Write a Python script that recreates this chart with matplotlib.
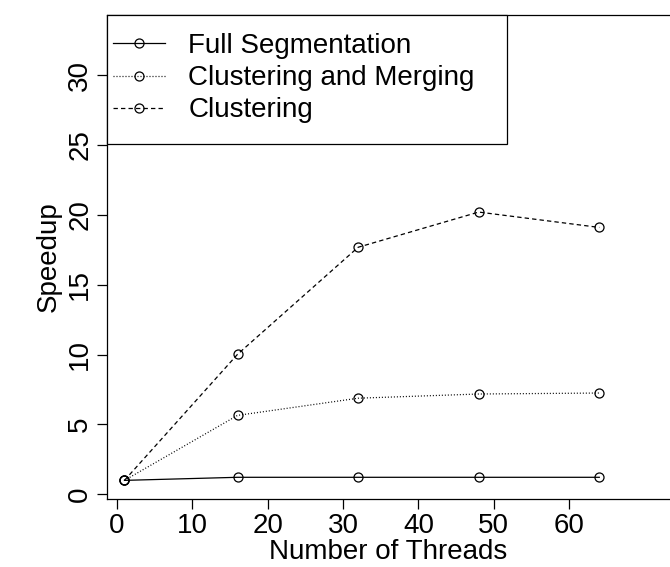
import matplotlib
matplotlib.use("Agg")
import matplotlib.pyplot as plt
from matplotlib.patches import Rectangle

threads = [1, 16, 32, 48, 64]
full_seg = [1.0, 1.22, 1.22, 1.22, 1.22]
clust_merge = [1.0, 5.65, 6.88, 7.18, 7.25]
clustering = [1.0, 10.02, 17.68, 20.2, 19.1]

xticks = [0, 10, 20, 30, 40, 50, 60]
yticks = [0, 5, 10, 15, 20, 25, 30]

plt.rcParams['font.family'] = ['Liberation Sans', 'DejaVu Sans']

fig = plt.figure(figsize=(6.7, 5.67), dpi=100)
ax = fig.add_axes([0.16, 0.1205, 0.84, 0.853])

mk = dict(marker='o', markersize=6.5, markerfacecolor='none',
          markeredgecolor='black', markeredgewidth=0.9, color='black', lw=0.9)
ax.plot(threads, full_seg, linestyle='-', label='Full Segmentation', **mk)
ax.plot(threads, clust_merge, linestyle=(0, (0.8, 1.6)), label='Clustering and Merging', **mk)
ax.plot(threads, clustering, linestyle=(0, (3.5, 2.5)), label='Clustering', **mk)

ax.set_xlim(-1.29, 73.38)
ax.set_ylim(-0.31, 34.3)
ax.set_xticks(xticks)
ax.set_yticks(yticks)
ax.set_yticklabels([str(v) for v in yticks], rotation=90, va='center')
ax.tick_params(labelsize=20, length=7, width=0.9)
ax.tick_params(axis='y', pad=3)
ax.tick_params(axis='x', pad=3)

for s in ['left', 'top', 'bottom']:
    ax.spines[s].set_linewidth(0.9)
ax.spines['right'].set_visible(False)

ax.set_xlabel('Number of Threads', fontsize=20, labelpad=0)
ax.set_ylabel('Speedup', fontsize=20, labelpad=4)

# legend box like R's
ax.add_patch(Rectangle((0, 0.7333), 0.7105, 0.2667, transform=ax.transAxes,
                       fill=True, facecolor='white', edgecolor='black',
                       lw=0.9, zorder=4, clip_on=False))
leg = ax.legend(loc='upper left', bbox_to_anchor=(0.0107, 0.9626), borderaxespad=0,
                frameon=False, fontsize=20, handlelength=1.85, handletextpad=0.85,
                labelspacing=0.22, borderpad=0)
leg.set_zorder(5)

fig.savefig('out.png', dpi=100)
